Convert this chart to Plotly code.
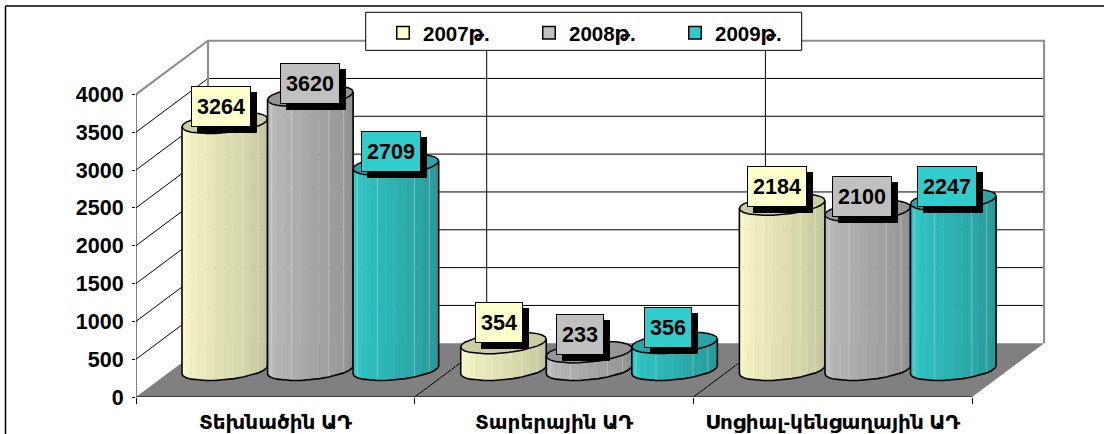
import math
import plotly.graph_objects as go

# ---------- data ----------
categories = ["Տեխնածին ԱԴ", "Տարերային ԱԴ", "Սոցիալ-կենցաղային ԱԴ"]
series_names = ["2007թ.", "2008թ.", "2009թ."]
values_2007 = [3264, 354, 2184]
values_2008 = [3620, 233, 2100]
values_2009 = [2709, 356, 2247]
y_ticks = [0, 500, 1000, 1500, 2000, 2500, 3000, 3500, 4000]

# ---------- style ----------
series = [values_2007, values_2008, values_2009]
LIGHT = [(255, 255, 204), (194, 194, 194), (53, 208, 208)]
DARK = [(191, 191, 153), (140, 140, 140), (38, 145, 145)]
TOP = ["#CDCDA3", "#969696", "#29A3A3"]
SWATCH = ["#FFFFCC", "#C0C0C0", "#33CCCC"]
FONT = "Liberation Sans, Arimo, DejaVu Sans, sans-serif"

W, H = 1104, 434
ML, MT, MB = 136, 6, 37.3
PX_X = 278.7              # pixels per category
PX_V = 302.4 / 4000       # pixels per value unit
DX = 72 / PX_X            # depth shift of back wall (category units)
DV = 53.7 / PX_V          # depth shift of back wall (value units)
XMAX = (W - ML) / PX_X
YMAX = (H - MB - MT) / PX_V
BAR_W = 0.3070
START = 0.165
BASE = 27.2 / PX_V
A = BAR_W / 2
B = 10 / PX_V
S = 4 / PX_V
# label placement relative to the top of each cylinder, in pixels
LABEL_DX = [[-4, -4, -5], [0, -9, -6], [-4.5, -7, -6]]
LABEL_DY = [[16, 21, 18], [12, 18, 14], [13, 15, 13]]

fig = go.Figure()


def line(xs, ys, color="black", width=1):
    fig.add_trace(go.Scatter(x=xs, y=ys, mode="lines", line=dict(color=color, width=width),
                             hoverinfo="skip", showlegend=False, cliponaxis=False))


def fill(xs, ys, color, lw=0.6, lc=None):
    fig.add_trace(go.Scatter(x=xs, y=ys, mode="lines", fill="toself", fillcolor=color,
                             line=dict(color=lc or color, width=lw),
                             hoverinfo="skip", showlegend=False, cliponaxis=False))


n_cat = len(categories)
# floor
fill([0, DX, n_cat + DX, n_cat, 0], [0, DV, DV, 0, 0], "#808080", lw=0)
# side wall and back wall grid
for v in y_ticks[1:-1]:
    line([0, DX, n_cat + DX], [v, v + DV, v + DV], "black", 1)
for c in range(1, n_cat):
    line([c, c + DX, c + DX], [0, DV, 4000 + DV], "black", 1)
# wall edges
line([0, DX, n_cat + DX, n_cat + DX], [4000, 4000 + DV, 4000 + DV, DV], "#8C8C8C", 2)
line([DX, DX], [DV, 4000 + DV], "#8C8C8C", 2)
# axis lines
line([0, 0], [0, 4000], "black", 1)
line([0, n_cat], [0, 0], "black", 1.2)


def lerp(c1, c2, f):
    return "rgb(%d,%d,%d)" % tuple(round(a + (b - a) * f) for a, b in zip(c1, c2))


def ring(cx, v, th):
    return (cx + A * math.cos(th), v + S * math.cos(th) + B * math.sin(th))


N = 14
label_specs = []
for c in range(n_cat):
    for k, vals in enumerate(series):
        val = vals[c]
        cx = c + START + (k + 0.5) * BAR_W
        thetas = [math.pi + math.pi * j / N for j in range(N + 1)]
        base_pts = [ring(cx, BASE, t) for t in thetas]
        top_pts = [ring(cx, BASE + val, t) for t in thetas]
        for j in range(N):
            f = (j + 0.5) / N
            xs = [base_pts[j][0], base_pts[j + 1][0], top_pts[j + 1][0], top_pts[j][0], base_pts[j][0]]
            ys = [base_pts[j][1], base_pts[j + 1][1], top_pts[j + 1][1], top_pts[j][1], base_pts[j][1]]
            fill(xs, ys, lerp(LIGHT[k], DARK[k], f))
        # faint light seams between facets
        for j in (2, 5, 9, 11):
            line([base_pts[j][0], top_pts[j][0]], [base_pts[j][1], top_pts[j][1]],
                 "rgba(255,255,255,0.3)", 1)
        all_th = [2 * math.pi * j / (2 * N) for j in range(2 * N + 1)]
        tp = [ring(cx, BASE + val, t) for t in all_th]
        fill([p[0] for p in tp], [p[1] for p in tp], TOP[k], lw=1.5, lc="black")
        sx = [top_pts[0][0]] + [p[0] for p in base_pts] + [top_pts[-1][0]]
        sy = [top_pts[0][1]] + [p[1] for p in base_pts] + [top_pts[-1][1]]
        line(sx, sy, "black", 1.6)
        label_specs.append((cx, BASE + val, val, SWATCH[k], LABEL_DX[k][c], LABEL_DY[k][c]))

# legend entries
for name, col in zip(series_names, SWATCH):
    fig.add_trace(go.Scatter(x=[None], y=[None], mode="markers", name=name,
                             marker=dict(symbol="square", size=12.5, color=col,
                                         line=dict(color="black", width=1.5))))

annotations = []
for cx, y, val, col, dx, dy in label_specs:
    w = 12 * len(str(val)) + 10
    common = dict(x=cx, y=y, xref="x", yref="y", showarrow=False, width=w, height=39,
                  xanchor="center", yanchor="middle", borderpad=0)
    annotations.append(dict(common, text=" ", bgcolor="black", borderwidth=1, bordercolor="black",
                            xshift=dx + 6, yshift=dy - 6))
    annotations.append(dict(common, text="<b>%d</b>" % val, bgcolor=col, borderwidth=1, bordercolor="black",
                            xshift=dx, yshift=dy, font=dict(family=FONT, size=21.5, color="black")))

PW, PH = W - ML, H - MB - MT
shapes = [
    # outer frame: only the top and left edges show
    dict(type="line", xref="paper", yref="paper", layer="above",
         x0=(5.5 - ML) / PW, x1=1, y0=(H - MB - 6) / PH, y1=(H - MB - 6) / PH,
         line=dict(color="black", width=1.5)),
    dict(type="line", xref="paper", yref="paper", layer="above",
         x0=(5.5 - ML) / PW, x1=(5.5 - ML) / PW, y0=(H - MB - 434) / PH, y1=(H - MB - 6) / PH,
         line=dict(color="black", width=1.5)),
    # legend panel
    dict(type="rect", xref="paper", yref="paper", layer="above",
         x0=(365.7 - ML) / PW, x1=(801.7 - ML) / PW,
         y0=(H - MB - 50.3) / PH, y1=(H - MB - 12.3) / PH,
         line=dict(color="black", width=1), fillcolor="white"),
]

fig.update_layout(
    width=W, height=H, autosize=False,
    margin=dict(l=ML, r=0, t=MT, b=MB, pad=0),
    paper_bgcolor="white", plot_bgcolor="white",
    font=dict(family=FONT, size=20, color="black"),
    showlegend=True,
    legend=dict(orientation="h", x=(383 - ML) / PW, y=(H - MB - 13) / PH,
                xanchor="left", yanchor="top", bgcolor="rgba(0,0,0,0)", borderwidth=0,
                entrywidth=101, entrywidthmode="pixels",
                font=dict(family=FONT, size=20.5, color="black", weight="bold"),
                itemclick=False, itemdoubleclick=False),
    xaxis=dict(range=[0, XMAX], showgrid=False, zeroline=False, showline=False,
               tickvals=[i + 0.5 for i in range(n_cat)], ticktext=categories,
               ticks="", ticklabelstandoff=11,
               tickfont=dict(family=FONT, size=20, color="black", weight="bold"),
               minor=dict(tickvals=list(range(n_cat + 1)), ticks="outside", ticklen=6,
                          tickcolor="black", tickwidth=1, showgrid=False),
               fixedrange=True),
    yaxis=dict(range=[0, YMAX], showgrid=False, zeroline=False, showline=False,
               tickvals=y_ticks, ticktext=[str(v) for v in y_ticks],
               ticks="outside", ticklen=3, tickcolor="black", tickwidth=1, ticklabelstandoff=4,
               tickfont=dict(family=FONT, size=21.5, color="black", weight="bold"),
               fixedrange=True),
    annotations=annotations,
    shapes=shapes,
)

fig.write_html("out.html", config=dict(displayModeBar=False),
               post_script="document.body.style.margin='0';document.body.style.overflow='hidden';")
